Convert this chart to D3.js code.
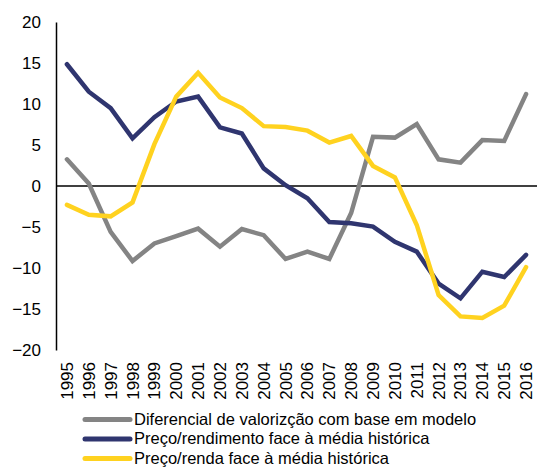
<!DOCTYPE html>
<html>
<head>
<meta charset="utf-8">
<script src="https://cdn.jsdelivr.net/npm/d3@7"></script>
<style>
  body { margin: 0; background: #fff; }
  svg { display: block; font-family: "Liberation Sans", Arial, sans-serif; }
</style>
</head>
<body>
<svg id="chart" width="537" height="468"></svg>
<script>
// years on the x axis
const years = d3.range(1995, 2017).map(String);

// Diferencial de valorização com base em modelo
const diferencial = [3.25, 0.3, -5.6, -9.15, -7.0, -6.1, -5.2, -7.4, -5.25, -6.0, -8.9,
  -8.0, -8.9, -3.3, 6.0, 5.9, 7.55, 3.25, 2.85, 5.6, 5.5, 11.2];
// Preço/rendimento face à média histórica
const precoRendimento = [14.85, 11.5, 9.5, 5.8, 8.4, 10.3, 10.9, 7.15, 6.4, 2.15, 0.1,
  -1.5, -4.4, -4.55, -4.95, -6.8, -8.0, -11.9, -13.7, -10.45, -11.1, -8.4];
// Preço/renda face à média histórica
const precoRenda = [-2.3, -3.5, -3.7, -2.0, 5.1, 10.9, 13.8, 10.8, 9.5, 7.3, 7.2,
  6.75, 5.3, 6.1, 2.45, 1.05, -4.75, -13.3, -15.9, -16.1, -14.6, -9.9];

const yTicks = [20, 15, 10, 5, 0, -5, -10, -15, -20];

const series = [
  { name: "Diferencial de valorizção com base em modelo", values: diferencial, color: "#848484" },
  { name: "Preço/rendimento face à média histórica", values: precoRendimento, color: "#2f356f" },
  { name: "Preço/renda face à média histórica", values: precoRenda, color: "#ffd21f" }
];

const svg = d3.select("#chart");

const x = d3.scaleBand().domain(years).range([56, 537]);
const y = d3.scaleLinear().domain([-20, 20]).range([350, 22]);

// y axis
const yAxis = svg.append("g")
  .attr("transform", "translate(56,0)")
  .call(d3.axisLeft(y).tickValues(yTicks).tickSize(0).tickPadding(15));
yAxis.select(".domain").attr("stroke", "#000").attr("stroke-width", 1.5);
yAxis.selectAll("text")
  .attr("font-size", 17)
  .attr("fill", "#000")
  .attr("font-family", "Liberation Sans, Arial, sans-serif");

// zero line
svg.append("line")
  .attr("x1", 56).attr("x2", 537)
  .attr("y1", y(0)).attr("y2", y(0))
  .attr("stroke", "#000").attr("stroke-width", 1.3);

// x labels, rotated
svg.append("g")
  .selectAll("text")
  .data(years)
  .join("text")
  .attr("transform", d => `translate(${x(d) + x.bandwidth() / 2 + 6},362) rotate(-90)`)
  .attr("text-anchor", "end")
  .attr("font-size", 17)
  .attr("fill", "#000")
  .text(d => d);

const line = d3.line()
  .x((d, i) => x(years[i]) + x.bandwidth() / 2)
  .y(d => y(d));

svg.append("g")
  .selectAll("path")
  .data(series)
  .join("path")
  .attr("d", d => line(d.values))
  .attr("fill", "none")
  .attr("stroke", d => d.color)
  .attr("stroke-width", 4.5)
  .attr("stroke-linejoin", "miter")
  .attr("stroke-linecap", "round");

// legend
const legend = svg.append("g")
  .selectAll("g")
  .data(series)
  .join("g")
  .attr("transform", (d, i) => `translate(85,${419.5 + i * 19.5})`);

legend.append("line")
  .attr("x1", 0).attr("x2", 45)
  .attr("stroke", d => d.color)
  .attr("stroke-width", 5)
  .attr("stroke-linecap", "round");

legend.append("text")
  .attr("x", 49)
  .attr("dy", "0.33em")
  .attr("font-size", 16.5)
  .attr("fill", "#000")
  .text(d => d.name);
</script>
</body>
</html>
